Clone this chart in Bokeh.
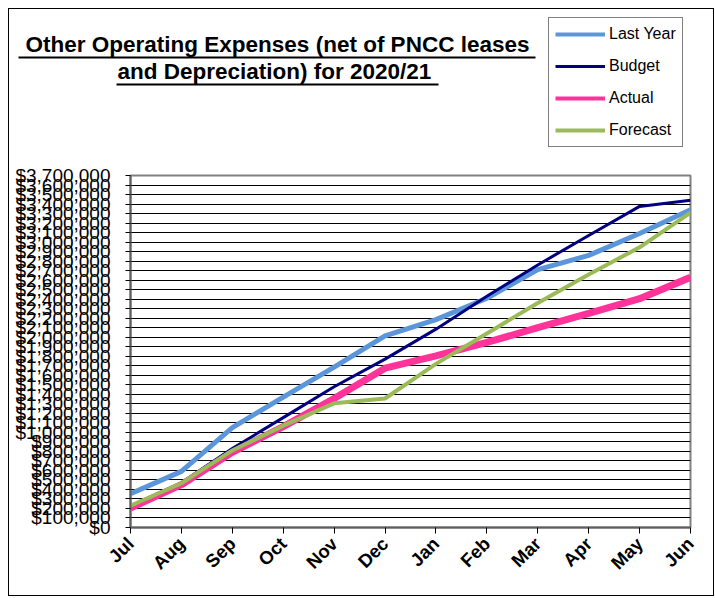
from bokeh.plotting import figure
from bokeh.layouts import column
from bokeh.models import Range1d, FixedTicker, NumeralTickFormatter, Legend, LegendItem
from bokeh.core.properties import value
from bokeh.embed import file_html
from bokeh.resources import INLINE
import math

months = ["Jul", "Aug", "Sep", "Oct", "Nov", "Dec", "Jan", "Feb", "Mar", "Apr", "May", "Jun"]
last_year = [355000, 590000, 1050000, 1370000, 1685000, 2015000, 2185000, 2410000, 2710000, 2860000, 3090000, 3340000]
budget = [225000, 470000, 830000, 1155000, 1480000, 1770000, 2085000, 2430000, 2760000, 3070000, 3375000, 3440000]
actual = [205000, 450000, 790000, 1060000, 1355000, 1675000, 1805000, 1945000, 2100000, 2250000, 2405000, 2630000]
forecast = [230000, 465000, 810000, 1070000, 1305000, 1356000, 1720000, 2040000, 2360000, 2660000, 2945000, 3310000]
y_ticks = list(range(0, 3700001, 100000))
title_lines = ["Other Operating Expenses (net of PNCC leases", "and  Depreciation) for 2020/21"]
series_names = ["Last Year", "Budget", "Actual", "Forecast"]
series_colors = ["#5B96DB", "#000080", "#FF3399", "#9BBB59"]
series_widths = [5, 3, 7, 4]
legend_widths = [4, 3, 4, 4]

# page geometry (px)
O = 9            # content origin inside the outer border
RIGHT = 713
SPLIT = 160      # page y where the chart figure starts
BOTTOM = 595
FL, FT, FR, FB = 130, 175, 690, 527

# ---------- header figure: title + legend ----------
top = figure(width=RIGHT - O, height=SPLIT - O, output_backend="svg", toolbar_location=None,
             x_range=Range1d(O, RIGHT), y_range=Range1d(SPLIT, O),
             x_axis_type=None, y_axis_type=None, min_border=0,
             background_fill_color="white", border_fill_color="white")
top.frame_align = False
top.outline_line_color = None
top.grid.grid_line_color = None

top.text(x=[277, 277], y=[44, 71], text=title_lines, text_align="center",
         text_baseline="middle", text_font=value("Liberation Sans"),
         text_font_style="bold", text_font_size="22.5px", text_color="black")
top.segment(x0=[18, 116], y0=[57, 84], x1=[535, 438], y1=[57, 84],
            line_color="black", line_width=2)

items = []
for name, col, lw in zip(series_names, series_colors, legend_widths):
    # legend-only renderers, kept outside the visible header area
    r = top.line(x=[-60, -40], y=[-60, -60], line_color=col, line_width=lw)
    items.append(LegendItem(label=name, renderers=[r]))
legend = Legend(items=items, location=(548 - O, SPLIT - 147), orientation="vertical",
                label_text_font="Liberation Sans", label_text_font_size="16px",
                label_text_color="black",
                glyph_width=50, glyph_height=20, label_height=20, spacing=12,
                padding=6, margin=0, label_standoff=4, border_line_color="black",
                border_line_width=1, background_fill_alpha=1, background_fill_color="white")
top.add_layout(legend, "center")

# ---------- chart figure ----------
H2 = BOTTOM - SPLIT
p = figure(width=RIGHT - O, height=H2, output_backend="svg", toolbar_location=None,
           x_range=Range1d(0, len(months) - 1), y_range=Range1d(0, 3700000),
           min_border_left=FL - O, min_border_top=FT - SPLIT, min_border_right=RIGHT - FR,
           min_border_bottom=BOTTOM - FB, background_fill_color="white",
           border_fill_color="white")
p.frame_align = False

x = list(range(len(months)))
for vals, col, lw in zip([last_year, budget, actual, forecast], series_colors, series_widths):
    p.line(x, vals, line_color=col, line_width=lw)

p.xgrid.grid_line_color = None
p.ygrid.grid_line_color = "black"
p.ygrid.grid_line_width = 1
p.ygrid.ticker = FixedTicker(ticks=y_ticks)
p.outline_line_color = "#808080"
p.outline_line_width = 2

ya = p.yaxis[0]
ya.ticker = FixedTicker(ticks=y_ticks)
ya.formatter = NumeralTickFormatter(format="$0,0")
ya.major_label_text_font = "Liberation Sans"
ya.major_label_text_font_size = "19px"
ya.major_label_text_color = "black"
ya.major_tick_out = 5
ya.major_tick_in = 0
ya.minor_tick_out = 0
ya.minor_tick_in = 0
ya.major_label_standoff = 15
ya.axis_line_color = "#606060"
ya.axis_line_width = 2
ya.major_tick_line_color = "black"

xa = p.xaxis[0]
xa.ticker = FixedTicker(ticks=x)
xa.major_label_overrides = {i: m for i, m in enumerate(months)}
xa.major_label_orientation = math.pi / 4
xa.major_label_text_font = "Liberation Sans"
xa.major_label_text_font_style = "bold"
xa.major_label_text_font_size = "18.5px"
xa.major_label_text_color = "black"
xa.major_tick_out = 6
xa.major_tick_in = 0
xa.minor_tick_out = 0
xa.minor_tick_in = 0
xa.major_label_standoff = 7
xa.axis_line_color = "#606060"
xa.axis_line_width = 2

layout = column(top, p, spacing=0, margin=(8, 0, 0, 8),
                styles={"border": "1px solid black", "background-color": "white"})

open("out.html", "w").write(file_html(layout, INLINE))
